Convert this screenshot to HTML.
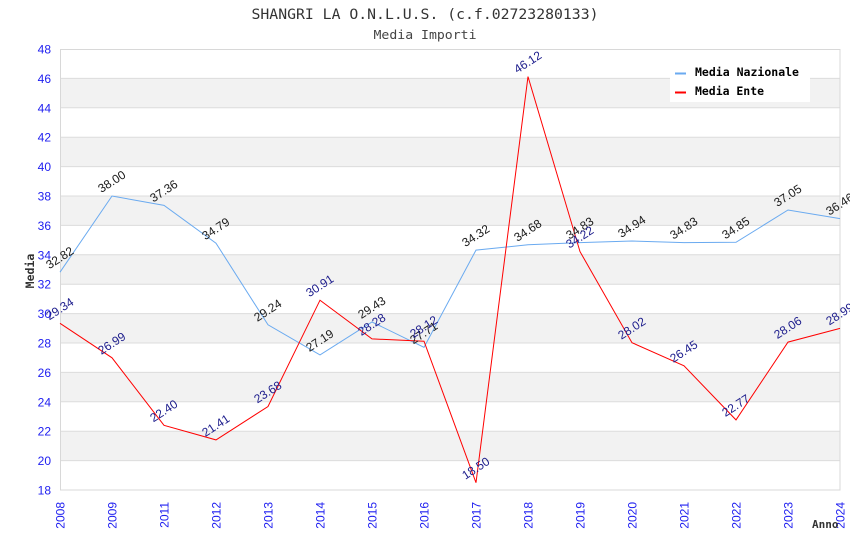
<!DOCTYPE html>
<html><head><meta charset="utf-8"><style>
html,body{margin:0;padding:0;background:#fff;}
svg{display:block;}
</style></head><body>
<svg width="850" height="550" viewBox="0 0 850 550" xmlns="http://www.w3.org/2000/svg">
<rect width="850" height="550" fill="#fff"/>
<!-- bands -->
<g fill="#f2f2f2">
<rect x="60.5" y="78.4" width="779.5" height="29.4"/>
<rect x="60.5" y="137.2" width="779.5" height="29.4"/>
<rect x="60.5" y="196" width="779.5" height="29.4"/>
<rect x="60.5" y="254.8" width="779.5" height="29.4"/>
<rect x="60.5" y="313.6" width="779.5" height="29.4"/>
<rect x="60.5" y="372.4" width="779.5" height="29.4"/>
<rect x="60.5" y="431.2" width="779.5" height="29.4"/>
</g>
<g stroke="#dcdcdc" stroke-width="1">
<line x1="60.5" x2="840" y1="78.4" y2="78.4"/>
<line x1="60.5" x2="840" y1="107.8" y2="107.8"/>
<line x1="60.5" x2="840" y1="137.2" y2="137.2"/>
<line x1="60.5" x2="840" y1="166.6" y2="166.6"/>
<line x1="60.5" x2="840" y1="196" y2="196"/>
<line x1="60.5" x2="840" y1="225.4" y2="225.4"/>
<line x1="60.5" x2="840" y1="254.8" y2="254.8"/>
<line x1="60.5" x2="840" y1="284.2" y2="284.2"/>
<line x1="60.5" x2="840" y1="313.6" y2="313.6"/>
<line x1="60.5" x2="840" y1="343" y2="343"/>
<line x1="60.5" x2="840" y1="372.4" y2="372.4"/>
<line x1="60.5" x2="840" y1="401.8" y2="401.8"/>
<line x1="60.5" x2="840" y1="431.2" y2="431.2"/>
<line x1="60.5" x2="840" y1="460.6" y2="460.6"/>
</g>
<rect x="60.5" y="49.5" width="779.5" height="440.5" fill="none" stroke="#d8d8d8" stroke-width="1"/>
<!-- Title -->
<text x="425" y="19" text-anchor="middle" font-family="DejaVu Sans Mono, Liberation Mono, monospace" font-size="14" fill="#333" textLength="347" lengthAdjust="spacingAndGlyphs">SHANGRI LA O.N.L.U.S. (c.f.02723280133)</text>
<text x="425" y="39" text-anchor="middle" font-family="DejaVu Sans Mono, Liberation Mono, monospace" font-size="12.5" fill="#444" textLength="103" lengthAdjust="spacingAndGlyphs">Media Importi</text>
<!-- Y tick labels -->
<g font-family="Liberation Sans, sans-serif" font-size="12" fill="#2020f0" text-anchor="end">
<text x="51" y="53.5">48</text>
<text x="51" y="82.9">46</text>
<text x="51" y="112.3">44</text>
<text x="51" y="141.7">42</text>
<text x="51" y="171.1">40</text>
<text x="51" y="200.5">38</text>
<text x="51" y="229.9">36</text>
<text x="51" y="259.3">34</text>
<text x="51" y="288.7">32</text>
<text x="51" y="318.1">30</text>
<text x="51" y="347.5">28</text>
<text x="51" y="376.9">26</text>
<text x="51" y="406.3">24</text>
<text x="51" y="435.7">22</text>
<text x="51" y="465.1">20</text>
<text x="51" y="494.5">18</text>
</g>
<!-- X tick labels -->
<g font-family="Liberation Sans, sans-serif" font-size="12" fill="#2020f0" text-anchor="end">
<text transform="translate(64.5,502) rotate(-90)">2008</text>
<text transform="translate(116.5,502) rotate(-90)">2009</text>
<text transform="translate(168.5,502) rotate(-90)">2011</text>
<text transform="translate(220.5,502) rotate(-90)">2012</text>
<text transform="translate(272.5,502) rotate(-90)">2013</text>
<text transform="translate(324.5,502) rotate(-90)">2014</text>
<text transform="translate(376.5,502) rotate(-90)">2015</text>
<text transform="translate(428.5,502) rotate(-90)">2016</text>
<text transform="translate(480.5,502) rotate(-90)">2017</text>
<text transform="translate(532.5,502) rotate(-90)">2018</text>
<text transform="translate(584.5,502) rotate(-90)">2019</text>
<text transform="translate(636.5,502) rotate(-90)">2020</text>
<text transform="translate(688.5,502) rotate(-90)">2021</text>
<text transform="translate(740.5,502) rotate(-90)">2022</text>
<text transform="translate(792.5,502) rotate(-90)">2023</text>
<text transform="translate(844.5,502) rotate(-90)">2024</text>
</g>
<!-- axis titles -->
<text transform="translate(34,271) rotate(-90)" text-anchor="middle" font-family="DejaVu Sans Mono, Liberation Mono, monospace" font-weight="bold" font-size="11.5" fill="#333">Media</text>
<text x="812" y="528" font-family="DejaVu Sans Mono, Liberation Mono, monospace" font-weight="bold" font-size="11" fill="#333">Anno</text>
<!-- Series -->
<polyline fill="none" stroke="#6aaaf0" stroke-width="1" points="60,272.2 112,196 164,205.4 216,243.2 268,324.8 320,354.9 372,322 424,347.3 476,250.1 528,244.8 580,242.6 632,241 684,242.6 736,242.3 788,210 840,218.6"/>
<polyline fill="none" stroke="#ff0000" stroke-width="1" points="60,323.3 112,357.8 164,425.3 216,439.9 268,406.5 320,300.2 372,338.9 424,341.2 476,482.7 528,76.6 580,251.6 632,342.7 684,365.8 736,419.9 788,342.1 840,328.4"/>
<!-- labels blue series -->
<g font-family="Liberation Sans, sans-serif" font-size="12" fill="#1a1a1a" text-anchor="middle">
<text transform="translate(62,261.2) rotate(-33)">32.82</text>
<text transform="translate(114,185) rotate(-33)">38.00</text>
<text transform="translate(166,194.4) rotate(-33)">37.36</text>
<text transform="translate(218,232.2) rotate(-33)">34.79</text>
<text transform="translate(270,313.8) rotate(-33)">29.24</text>
<text transform="translate(322,343.9) rotate(-33)">27.19</text>
<text transform="translate(374,311) rotate(-33)">29.43</text>
<text transform="translate(426,336.3) rotate(-33)">27.71</text>
<text transform="translate(478,239.1) rotate(-33)">34.32</text>
<text transform="translate(530,233.8) rotate(-33)">34.68</text>
<text transform="translate(582,231.6) rotate(-33)">34.83</text>
<text transform="translate(634,230) rotate(-33)">34.94</text>
<text transform="translate(686,231.6) rotate(-33)">34.83</text>
<text transform="translate(738,231.3) rotate(-33)">34.85</text>
<text transform="translate(790,199) rotate(-33)">37.05</text>
<text transform="translate(842,207.6) rotate(-33)">36.46</text>
</g>
<!-- labels red series -->
<g font-family="Liberation Sans, sans-serif" font-size="12" fill="#1c1c8c" text-anchor="middle">
<text transform="translate(62,312.3) rotate(-33)">29.34</text>
<text transform="translate(114,346.8) rotate(-33)">26.99</text>
<text transform="translate(166,414.3) rotate(-33)">22.40</text>
<text transform="translate(218,428.9) rotate(-33)">21.41</text>
<text transform="translate(270,395.5) rotate(-33)">23.68</text>
<text transform="translate(322,289.2) rotate(-33)">30.91</text>
<text transform="translate(374,327.9) rotate(-33)">28.28</text>
<text transform="translate(426,330.2) rotate(-33)">28.12</text>
<text transform="translate(478,471.7) rotate(-33)">18.50</text>
<text transform="translate(530,65.6) rotate(-33)">46.12</text>
<text transform="translate(582,240.6) rotate(-33)">34.22</text>
<text transform="translate(634,331.7) rotate(-33)">28.02</text>
<text transform="translate(686,354.8) rotate(-33)">26.45</text>
<text transform="translate(738,408.9) rotate(-33)">22.77</text>
<text transform="translate(790,331.1) rotate(-33)">28.06</text>
<text transform="translate(842,317.4) rotate(-33)">28.99</text>
</g>
<!-- Legend -->
<rect x="670" y="62" width="140" height="40" fill="#fff"/>
<rect x="675" y="72.5" width="11" height="2" fill="#6aaaf0"/>
<rect x="675" y="91.5" width="11" height="2" fill="#ff0000"/>
<g font-family="DejaVu Sans Mono, Liberation Mono, monospace" font-weight="bold" font-size="11.5" fill="#000">
<text x="695" y="76" textLength="104" lengthAdjust="spacingAndGlyphs">Media Nazionale</text>
<text x="695" y="95" textLength="69" lengthAdjust="spacingAndGlyphs">Media Ente</text>
</g>
</svg>
</body></html>
